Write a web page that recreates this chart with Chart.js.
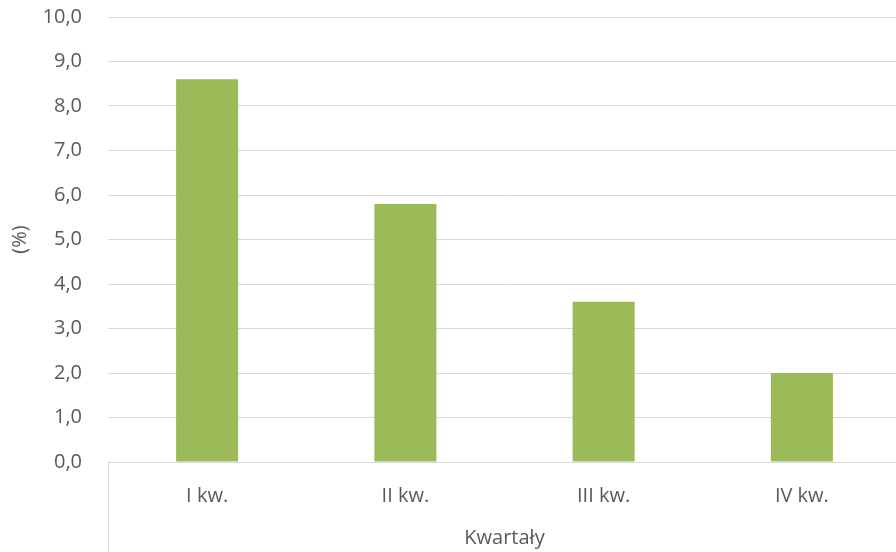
<!DOCTYPE html>
<html lang="pl">
<head>
    <meta charset="UTF-8">
    <title>Kwartały (%)</title>
    <script src="https://cdn.jsdelivr.net/npm/chart.js"></script>
    <style>
        html, body { margin: 0; padding: 0; background: #fff; overflow: hidden; }
        .wrap { width: 901px; height: 552px; position: relative; }
    </style>
</head>
<body>
    <div class="wrap">
        <canvas id="kwChart"></canvas>
    </div>

<script>
// dane z wykresu
const kwartaly = ['I kw.', 'II kw.', 'III kw.', 'IV kw.'];
const wartosci = [8.6, 5.8, 3.6, 2.0];
const osY = { min: 0, max: 10, krok: 1 };

const kolorSlupka = '#9bbb59';
const kolorSiatki = '#d9d9d9';
const kolorTekstu = '#595959';
const czcionka = { family: "'Open Sans', 'Noto Sans', sans-serif", size: 20 };

// pionowa linia osi kategorii schodzaca pod wykres (jak w Excelu)
const liniaKategorii = {
    id: 'liniaKategorii',
    afterDraw(chart) {
        const { ctx, chartArea } = chart;
        const x = Math.round(chartArea.left) + 0.5;
        ctx.save();
        ctx.strokeStyle = kolorSiatki;
        ctx.lineWidth = 1;
        ctx.beginPath();
        ctx.moveTo(x, chartArea.bottom);
        ctx.lineTo(x, chart.height);
        ctx.stroke();
        ctx.restore();
    }
};

new Chart(document.getElementById('kwChart'), {
    type: 'bar',
    data: {
        labels: kwartaly,
        datasets: [{
            label: '(%)',
            data: wartosci,
            backgroundColor: kolorSlupka,
            borderWidth: 0,
            barPercentage: 0.313,
            categoryPercentage: 1
        }]
    },
    options: {
        responsive: true,
        maintainAspectRatio: false,
        animation: false,
        layout: { padding: { top: 17, left: 0, right: 0, bottom: 0 } },
        plugins: {
            legend: { display: false },
            tooltip: { enabled: false }
        },
        scales: {
            x: {
                grid: { display: false, drawTicks: false },
                border: { display: true, color: kolorSiatki, width: 1 },
                ticks: { color: kolorTekstu, font: czcionka, padding: 22, maxRotation: 0 },
                title: {
                    display: true,
                    text: 'Kwartały',
                    color: kolorTekstu,
                    font: czcionka,
                    padding: { top: 0, bottom: 2 }
                },
                afterFit(scale) {
                    scale.height = 90;
                    scale.paddingLeft = 0;
                    scale.paddingRight = 0;
                }
            },
            y: {
                min: osY.min,
                max: osY.max,
                grid: { color: kolorSiatki, lineWidth: 1, drawTicks: false },
                border: { display: false },
                ticks: {
                    stepSize: osY.krok,
                    color: kolorTekstu,
                    font: czcionka,
                    padding: 26,
                    callback: v => v.toFixed(1).replace('.', ',')
                },
                title: {
                    display: true,
                    text: '(%)',
                    color: kolorTekstu,
                    font: czcionka,
                    padding: { top: 8, bottom: 0 }
                },
                afterFit(scale) {
                    scale.width = 108;
                    scale.paddingTop = 0;
                    scale.paddingBottom = 0;
                }
            }
        }
    },
    plugins: [liniaKategorii]
});
</script>
</body>
</html>
